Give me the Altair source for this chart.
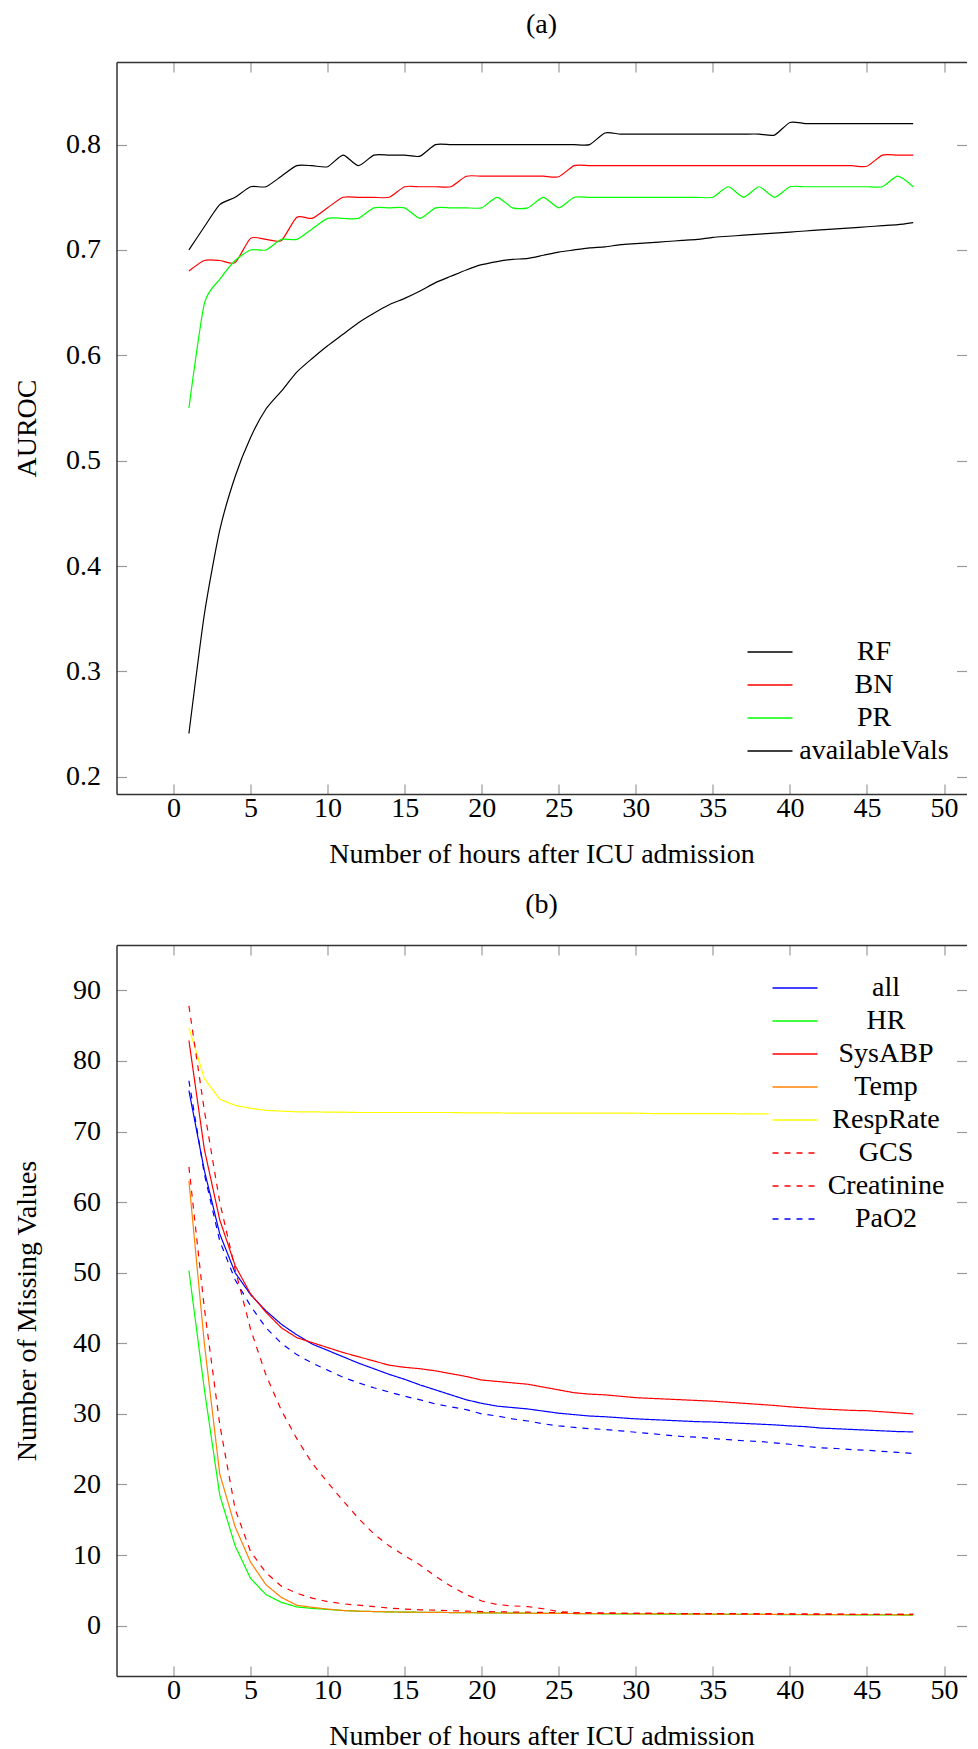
import altair as alt
import pandas as pd

# ---------------- data ----------------
hours = [1, 2, 3, 4, 5, 6, 7, 8, 9, 10, 11, 12, 13, 14, 15, 16, 17, 18, 19, 20,
         21, 22, 23, 24, 25, 26, 27, 28, 29, 30, 31, 32, 33, 34, 35, 36, 37, 38, 39, 40,
         41, 42, 43, 44, 45, 46, 47, 48]

# panel (a): AUROC
rf = [0.700, 0.722, 0.743, 0.750, 0.760, 0.760, 0.770, 0.780, 0.780, 0.779,
      0.790, 0.780, 0.790, 0.790, 0.790, 0.789, 0.800, 0.800, 0.800, 0.800,
      0.800, 0.800, 0.800, 0.800, 0.800, 0.800, 0.800, 0.811, 0.810, 0.810,
      0.810, 0.810, 0.810, 0.810, 0.810, 0.810, 0.810, 0.810, 0.809, 0.821,
      0.820, 0.820, 0.820, 0.820, 0.820, 0.820, 0.820, 0.820]
bn = [0.680, 0.690, 0.690, 0.688, 0.711, 0.710, 0.709, 0.731, 0.730, 0.740,
      0.750, 0.750, 0.750, 0.750, 0.760, 0.760, 0.760, 0.760, 0.770, 0.770,
      0.770, 0.770, 0.770, 0.770, 0.7695, 0.780, 0.780, 0.780, 0.780, 0.780,
      0.780, 0.780, 0.780, 0.780, 0.780, 0.780, 0.780, 0.780, 0.780, 0.780,
      0.780, 0.780, 0.780, 0.780, 0.7795, 0.790, 0.790, 0.790]
pr = [0.550, 0.649, 0.672, 0.690, 0.700, 0.700, 0.710, 0.710, 0.720, 0.730,
      0.730, 0.730, 0.740, 0.740, 0.740, 0.730, 0.740, 0.740, 0.740, 0.740,
      0.750, 0.740, 0.740, 0.750, 0.740, 0.750, 0.750, 0.750, 0.750, 0.750,
      0.750, 0.750, 0.750, 0.750, 0.750, 0.760, 0.750, 0.760, 0.750, 0.760,
      0.760, 0.760, 0.760, 0.760, 0.760, 0.760, 0.770, 0.760]
available_vals = [0.241, 0.354, 0.434, 0.485, 0.522, 0.549, 0.566, 0.584, 0.597, 0.609,
                  0.620, 0.631, 0.640, 0.648, 0.654, 0.661, 0.669, 0.675, 0.681, 0.686,
                  0.689, 0.691, 0.692, 0.695, 0.698, 0.700, 0.702, 0.703, 0.705, 0.706,
                  0.707, 0.708, 0.709, 0.710, 0.712, 0.713, 0.714, 0.715, 0.716, 0.717,
                  0.718, 0.719, 0.720, 0.721, 0.722, 0.723, 0.724, 0.726]

# panel (b): number of missing values
all_vals = [75.8, 64.5, 55.5, 50.0, 46.9, 44.6, 42.7, 41.2, 39.9, 39.0,
            38.1, 37.2, 36.4, 35.6, 34.9, 34.1, 33.4, 32.7, 32.0, 31.5,
            31.1, 30.9, 30.7, 30.4, 30.1, 29.9, 29.7, 29.6, 29.45, 29.3,
            29.2, 29.1, 29.0, 28.9, 28.85, 28.75, 28.65, 28.55, 28.45, 28.3,
            28.2, 28.0, 27.9, 27.8, 27.7, 27.6, 27.5, 27.45]
hr = [50.3, 33.5, 18.5, 11.3, 6.7, 4.4, 3.3, 2.65, 2.45, 2.3,
      2.15, 2.05, 2.0, 1.95, 1.92, 1.9, 1.88, 1.86, 1.84, 1.82,
      1.8, 1.78, 1.76, 1.75, 1.74, 1.72, 1.7, 1.68, 1.67, 1.66,
      1.65, 1.64, 1.63, 1.62, 1.61, 1.6, 1.6, 1.59, 1.58, 1.57,
      1.56, 1.55, 1.55, 1.54, 1.53, 1.52, 1.51, 1.5]
sysabp = [82.9, 67.5, 57.5, 51.0, 47.0, 44.4, 42.2, 40.8, 40.1, 39.4,
          38.7, 38.1, 37.5, 36.9, 36.6, 36.4, 36.1, 35.7, 35.3, 34.8,
          34.6, 34.4, 34.2, 33.8, 33.4, 33.0, 32.8, 32.7, 32.5, 32.3,
          32.2, 32.1, 32.0, 31.9, 31.8, 31.65, 31.5, 31.35, 31.2, 31.0,
          30.85, 30.7, 30.6, 30.5, 30.45, 30.3, 30.15, 30.0]
temp = [63.0, 40.0, 21.5, 14.0, 9.0, 5.8, 4.0, 2.9, 2.6, 2.35,
        2.15, 2.05, 2.0, 1.95, 1.92, 1.9, 1.88, 1.86, 1.84, 1.82,
        1.8, 1.78, 1.76, 1.75, 1.74, 1.72, 1.71, 1.7, 1.69, 1.68,
        1.67, 1.66, 1.65, 1.64, 1.63, 1.62, 1.62, 1.61, 1.6, 1.59,
        1.58, 1.57, 1.57, 1.56, 1.55, 1.55, 1.54, 1.54]
resp_rate = [84.7, 77.5, 74.6, 73.7, 73.3, 73.0, 72.9, 72.8, 72.8, 72.75,
             72.75, 72.7, 72.7, 72.7, 72.7, 72.7, 72.7, 72.7, 72.65, 72.65,
             72.65, 72.6, 72.6, 72.6, 72.6, 72.6, 72.6, 72.6, 72.6, 72.6,
             72.55, 72.55, 72.55, 72.55, 72.55, 72.55, 72.5, 72.5, 72.5, 72.5,
             72.5, 72.5, 72.5, 72.5, 72.5, 72.5, 72.5, 72.5]
gcs = [87.8, 73.0, 60.0, 50.5, 42.0, 35.5, 30.5, 26.5, 23.0, 20.3,
       17.7, 15.2, 13.0, 11.3, 9.9, 8.6, 7.0, 5.6, 4.4, 3.5,
       3.0, 2.8, 2.7, 2.4, 2.0, 1.85, 1.8, 1.78, 1.76, 1.75,
       1.74, 1.73, 1.72, 1.71, 1.7, 1.7, 1.69, 1.68, 1.67, 1.66,
       1.65, 1.64, 1.63, 1.62, 1.61, 1.6, 1.6, 1.6]
creatinine = [65.0, 45.0, 28.5, 16.5, 10.5, 7.5, 5.6, 4.6, 3.9, 3.4,
              3.1, 2.9, 2.7, 2.5, 2.35, 2.25, 2.2, 2.12, 2.06, 2.0,
              1.97, 1.94, 1.91, 1.88, 1.85, 1.82, 1.8, 1.78, 1.76, 1.75,
              1.74, 1.73, 1.72, 1.71, 1.7, 1.69, 1.68, 1.67, 1.66, 1.65,
              1.64, 1.63, 1.62, 1.61, 1.6, 1.6, 1.6, 1.6]
pao2 = [77.2, 64.0, 54.5, 49.0, 45.3, 42.2, 40.0, 38.4, 37.2, 36.2,
        35.2, 34.4, 33.7, 33.1, 32.5, 32.0, 31.4, 31.0, 30.6, 30.0,
        29.7, 29.3, 29.0, 28.6, 28.3, 28.1, 27.9, 27.8, 27.6, 27.4,
        27.2, 27.0, 26.8, 26.7, 26.5, 26.35, 26.2, 26.1, 25.9, 25.7,
        25.4, 25.2, 25.1, 24.95, 24.85, 24.7, 24.55, 24.4]

top_names = ["RF", "BN", "PR", "availableVals"]
top_series = [rf, bn, pr, available_vals]
top_colors = ["#000000", "#ff0000", "#00ff00", "#000000"]

bot_names = ["all", "HR", "SysABP", "Temp", "RespRate", "GCS", "Creatinine", "PaO2"]
bot_series = [all_vals, hr, sysabp, temp, resp_rate, gcs, creatinine, pao2]
bot_colors = ["#0000ff", "#00ff00", "#ff0000", "#ff8000", "#ffff00",
              "#ff0000", "#ff0000", "#0000ff"]
bot_dashes = [[1, 0], [1, 0], [1, 0], [1, 0], [1, 0], [6, 6], [6, 6], [6, 6]]

x_ticks = [0, 5, 10, 15, 20, 25, 30, 35, 40, 45, 50]
top_y_ticks = [0.2, 0.3, 0.4, 0.5, 0.6, 0.7, 0.8]
bot_y_ticks = [0, 10, 20, 30, 40, 50, 60, 70, 80, 90]


def long_table(field, names, series):
    rows = []
    for order, (name, vals) in enumerate(zip(names, series)):
        for h, v in zip(hours, vals):
            rows.append({"hour": h, "value": v, field: name, "order": order})
    return pd.DataFrame(rows)


FONT = "Liberation Serif"
FS = 28
TICK = {"expr": "-10"}
X_DOMAIN = [-3.7, 51.46]
W = 850
FRAME = "#333333"
# legend sample: a horizontal stroke twice as long as the symbol's nominal size
LEGEND_SYMBOL = "M-2,0H2"


def panel(df, field, names, colors, dashes, y_domain, y_ticks, y_fmt, y_title,
          title, title_offset, legend_x, legend_y, label_offset, interp, height):
    x_scale = alt.Scale(domain=X_DOMAIN, nice=False, zero=False)
    y_scale = alt.Scale(domain=y_domain, nice=False, zero=False)
    legend = alt.Legend(
        title=None, orient="none", legendX=legend_x, legendY=legend_y,
        symbolType=LEGEND_SYMBOL, symbolSize=506, symbolStrokeWidth=1.3,
        symbolOffset=8.5,
        labelFont=FONT, labelFontSize=FS, labelColor="black",
        labelAlign="center", labelOffset=label_offset, labelLimit=0,
        fillColor="white", padding=4, rowPadding=5,
    )
    enc = dict(
        x=alt.X("hour:Q", scale=x_scale,
                axis=alt.Axis(values=x_ticks, format="d",
                              title="Number of hours after ICU admission",
                              tickSize=TICK, labelPadding=10, titlePadding=18,
                              domain=True)),
        y=alt.Y("value:Q", scale=y_scale,
                axis=alt.Axis(values=y_ticks, format=y_fmt, title=y_title,
                              tickSize=TICK, labelPadding=26, titleX=-75.5,
                              domain=True)),
        color=alt.Color(f"{field}:N", scale=alt.Scale(domain=names, range=colors),
                        legend=legend),
        order=alt.Order("order:Q"),
    )
    if dashes is not None:
        enc["strokeDash"] = alt.StrokeDash(
            f"{field}:N", scale=alt.Scale(domain=names, range=dashes), legend=legend)
    lines = alt.Chart(df).mark_line(strokeWidth=1.2, interpolate=interp).encode(**enc)
    mirror = alt.Chart(df).mark_line(opacity=0).encode(
        x=alt.X("hour:Q", scale=x_scale,
                axis=alt.Axis(orient="top", values=x_ticks, labels=False,
                              title=None, tickSize=TICK, domain=True,
                              minExtent=0, labelPadding=0)),
        y=alt.Y("value:Q", scale=y_scale,
                axis=alt.Axis(orient="right", values=y_ticks, labels=False,
                              title=None, tickSize=TICK, domain=False,
                              minExtent=0, labelPadding=0)),
        detail=f"{field}:N",
    )
    return (
        alt.layer(lines, mirror)
        .resolve_axis(x="independent", y="independent")
        .properties(
            width=W, height=height,
            title=alt.TitleParams(title, font=FONT, fontSize=FS,
                                  fontWeight="normal", anchor="middle",
                                  color="black", offset=title_offset),
        )
    )


top_df = long_table("model", top_names, top_series)
bot_df = long_table("variable", bot_names, bot_series)

top = panel(top_df, "model", top_names, top_colors, None, [0.1836, 0.8784],
            top_y_ticks, ".1f", "AUROC", "(a)", 22, 627, 572, 90, "cardinal", 732)
bottom = panel(bot_df, "variable", bot_names, bot_colors, bot_dashes,
               [-7.13, 96.43], bot_y_ticks, "d", "Number of Missing Values",
               "(b)", 25, 652, 25, 77, "linear", 731)

chart = (
    alt.vconcat(top, bottom, spacing=23)
    .resolve_scale(color="independent", strokeDash="independent")
    .resolve_legend(color="independent", strokeDash="independent")
    .properties(padding={"left": 4.5, "top": 3, "right": 0, "bottom": 0})
    .configure_view(strokeWidth=0)
    .configure_axis(
        labelFont=FONT, titleFont=FONT, labelFontSize=FS, titleFontSize=FS,
        titleFontWeight="normal", labelColor="black", titleColor="black",
        grid=False, domainColor=FRAME, domainWidth=1.5,
        tickColor="#9a9a9a", tickWidth=1.2,
    )
    .configure_line(tension=0.35)
)

chart.save("out.html", embed_options={"renderer": "svg", "actions": False})
